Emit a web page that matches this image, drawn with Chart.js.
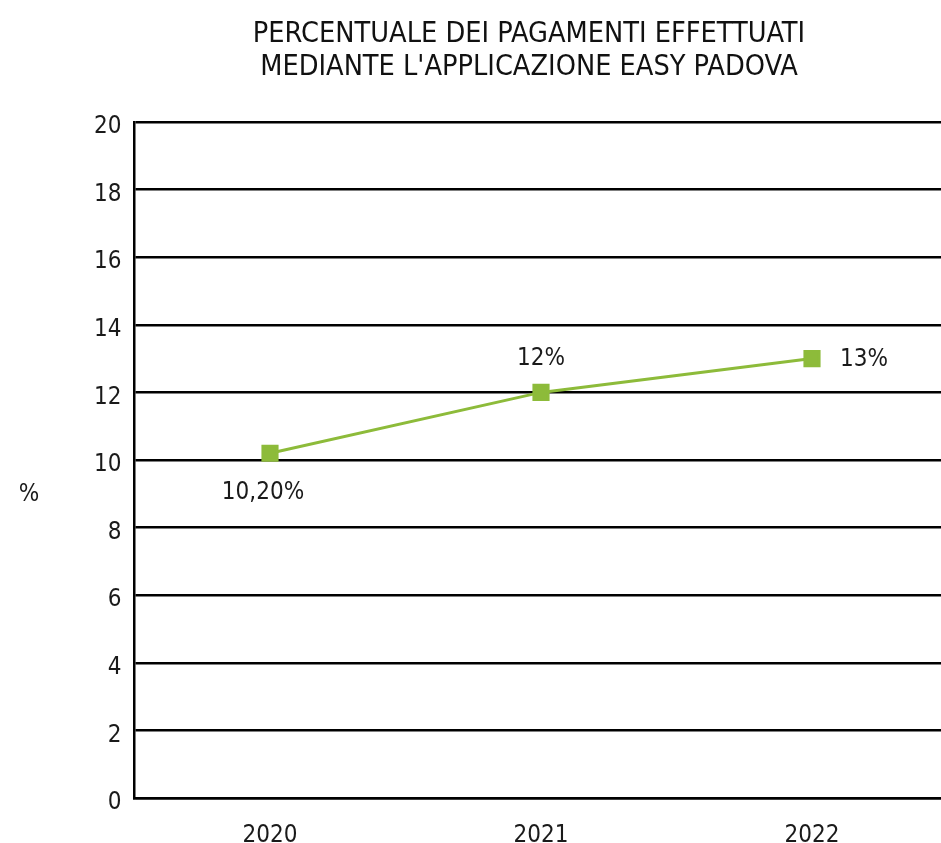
<!DOCTYPE html>
<html>
<head>
<meta charset="utf-8">
<script src="https://cdn.jsdelivr.net/npm/chart.js@4.4.0/dist/chart.umd.min.js"></script>
<style>
  body { margin: 0; background: #fff; overflow: hidden; }
  #wrap { width: 1058px; height: 843px; }
</style>
</head>
<body>
<div id="wrap"><canvas id="chart" width="1058" height="843"></canvas></div>
<script>
  // values
  const years = ["2020", "2021", "2022"];
  const appShare = [10.2, 12, 13];
  const pointLabels = ["10,20%", "12%", "13%"];
  const yTicks = [0, 2, 4, 6, 8, 10, 12, 14, 16, 18, 20];

  const labelPlace = ["below", "above", "right"];
  const green = "#8dbb3a";
  const family = "'DejaVu Sans Condensed', 'DejaVu Sans', sans-serif";
  const textFont = { family: family, size: 24 };

  const extraText = {
    id: "extraText",
    afterDatasetsDraw(chart) {
      const c = chart.ctx;
      const meta = chart.getDatasetMeta(0);
      c.save();
      c.fillStyle = "#1a1a1a";
      c.font = "24px " + family;
      c.textBaseline = "middle";
      meta.data.forEach((pt, i) => {
        let x = pt.x, y = pt.y;
        c.textAlign = "center";
        if (labelPlace[i] === "below") { x -= 7; y += 40; }
        if (labelPlace[i] === "above") { y -= 34; }
        if (labelPlace[i] === "right") { c.textAlign = "left"; x += 28; y += 1; }
        c.fillText(pointLabels[i], x, y);
      });
      // y axis unit
      c.textAlign = "center";
      c.fillText("%", 29, 495);
      c.restore();
    }
  };

  new Chart(document.getElementById("chart"), {
    type: "line",
    data: {
      labels: years,
      datasets: [{
        data: appShare,
        borderColor: green,
        backgroundColor: green,
        borderWidth: 3,
        pointStyle: "rect",
        pointRadius: 10,
        pointHoverRadius: 10,
        tension: 0
      }]
    },
    options: {
      responsive: false,
      animation: false,
      layout: { padding: 0 },
      plugins: {
        legend: { display: false },
        tooltip: { enabled: false },
        title: {
          display: true,
          text: ["PERCENTUALE DEI PAGAMENTI EFFETTUATI", "MEDIANTE L'APPLICAZIONE EASY PADOVA"],
          color: "#111",
          font: { family: family, size: 28.6, weight: "normal", lineHeight: 1.154 },
          padding: { top: 18.5, bottom: 37.5 }
        }
      },
      scales: {
        x: {
          offset: true,
          afterFit(s) { s.height = 45; },
          grid: { display: false, drawTicks: false },
          border: { display: true, color: "#000", width: 2.5 },
          ticks: { color: "#1a1a1a", font: textFont, padding: 23, maxRotation: 0 }
        },
        y: {
          min: 0,
          max: 20,
          afterFit(s) { s.width = 134.5; },
          afterBuildTicks(s) { s.ticks = yTicks.map(v => ({ value: v })); },
          grid: { color: "#000", lineWidth: 2.5, drawTicks: false },
          border: { display: true, color: "#000", width: 2.5 },
          ticks: { color: "#1a1a1a", font: textFont, padding: 13, labelOffset: 5 }
        },
        // empty right-hand strip so the plot runs past the window edge
        spacer: {
          position: "right",
          min: 0,
          max: 20,
          afterFit(s) { s.width = 110.5; },
          grid: { display: false, drawTicks: false },
          border: { display: false },
          ticks: { display: false }
        }
      }
    },
    plugins: [extraText]
  });
</script>
</body>
</html>
